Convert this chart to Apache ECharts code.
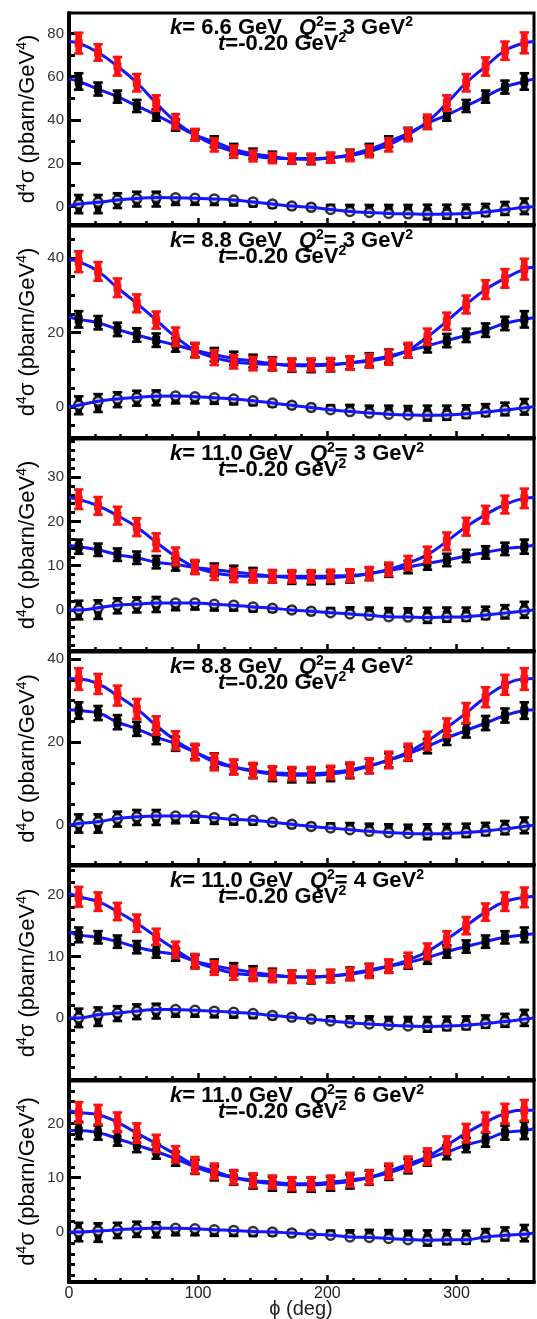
<!DOCTYPE html>
<html><head><meta charset="utf-8">
<script src="https://cdn.jsdelivr.net/npm/echarts@6/dist/echarts.min.js"></script>
<style>html,body{margin:0;padding:0;background:#fff}#c{width:537px;height:1319px}</style>
</head><body><div id="c"></div><script>
// ---- data ----
const phi = [7.5,22.5,37.5,52.5,67.5,82.5,97.5,112.5,127.5,142.5,157.5,172.5,187.5,202.5,217.5,232.5,247.5,262.5,277.5,292.5,307.5,322.5,337.5,352.5];
const xMajor = [0,100,200,300];
const kVals = ['6.6','8.8','11.0','8.8','11.0','11.0'];
const q2Vals = ['3','3','3','4','4','6'];
const tVal = '-0.20';

const p1YTicks = [0,20,40,60,80];
const p1Tot = [75.5,71.2,64.8,57.2,47.8,39.3,33.2,28.5,25.4,23.4,22.4,22.2,22.2,22.6,23.5,25.5,28.5,33.2,39.2,47.8,57.2,64.7,72.0,75.6];
const p1TotErr = [4.8,3.8,4.3,4.0,3.6,3.4,2.7,3.0,2.8,2.5,2.3,2.3,2.3,2.3,2.5,2.7,3.0,3.0,3.3,3.6,4.0,4.2,4.2,4.8];
const p1Bh = [57.8,54.3,50.8,46.5,42.3,37.7,33.1,30.0,26.5,24.5,23.2,22.0,21.8,22.6,24.0,26.5,30.0,33.9,38.5,42.3,46.5,50.8,55.2,57.8];
const p1BhErr = [3.8,3.0,2.8,2.8,2.6,2.6,2.5,2.5,2.5,2.3,2.2,2.2,2.2,2.2,2.3,2.5,2.5,2.5,2.6,2.6,2.8,2.8,3.0,3.8];
const p1Int = [1.2,2.0,3.1,3.8,4.2,4.1,3.9,3.6,3.1,2.2,1.2,0.3,-0.3,-1.3,-2.2,-2.7,-3.1,-3.3,-3.5,-3.4,-3.1,-2.4,-1.4,-0.3];
const p1SqMid = [1.2,1.2,2.8,3.5,3.5,2.6,2.5,2.2,1.9,1.3,0.8,0.2,-0.2,-0.4,-0.7,-1.0,-1.2,-1.3,-2.5,-2.3,-2.0,-1.5,-0.8,0.2];
const p1SqErr = [4.2,4.2,3.4,3.4,3.4,1.8,1.6,1.4,1.2,0.9,0.6,0.5,0.5,1.1,1.5,1.8,2.0,2.1,3.4,3.2,3.0,2.8,3.0,3.6];
const p1Ends = [[76.3,76.3],[59.0,59.0],[0.3,0.0]];

const p2YTicks = [0,20,40];
const p2Tot = [39.0,36.4,32.0,27.8,23.3,18.8,15.2,13.2,12.1,11.6,11.4,11.3,11.3,11.4,11.8,12.3,13.3,15.2,18.8,23.0,27.5,31.5,34.5,37.0];
const p2TotErr = [2.8,2.5,2.5,2.4,2.3,2.5,2.0,2.0,1.8,1.8,1.7,1.7,1.7,1.7,1.8,1.8,2.0,2.0,2.2,2.3,2.4,2.5,2.5,2.8];
const p2Bh = [23.5,22.6,20.8,19.3,17.9,16.6,15.2,14.0,13.0,12.3,11.6,11.1,11.0,11.2,11.8,12.6,13.6,15.0,16.4,17.8,19.2,20.6,22.4,23.5];
const p2BhErr = [2.2,1.8,1.8,1.8,1.8,1.8,1.8,1.8,1.8,1.7,1.7,1.7,1.7,1.7,1.7,1.8,1.8,1.8,1.8,1.8,1.8,1.8,1.8,2.2];
const p2Int = [0.4,1.5,2.1,2.5,2.8,2.9,2.7,2.4,2.1,1.6,1.0,0.4,-0.2,-0.8,-1.3,-1.7,-2.0,-2.2,-2.3,-2.2,-1.9,-1.4,-0.9,-0.3];
const p2SqMid = [0.4,1.0,1.9,2.3,2.4,2.0,1.9,1.6,1.4,1.1,0.8,0.4,-0.2,-0.3,-0.4,-0.7,-0.9,-1.0,-1.7,-1.6,-1.3,-0.9,-0.6,0.0];
const p2SqErr = [2.4,2.4,2.0,2.0,2.0,1.1,1.0,0.8,0.7,0.5,0.4,0.3,0.3,0.6,0.9,1.0,1.2,1.2,2.0,1.9,1.7,1.6,1.7,2.1];
const p2Ends = [[39.6,37.6],[24.2,24.0],[0.0,0.0]];

const p3YTicks = [0,10,20,30];
const p3Tot = [25.0,23.5,21.3,18.7,15.3,12.1,9.7,8.4,7.8,7.6,7.6,7.6,7.6,7.7,7.8,8.2,9.2,10.6,12.5,15.5,18.8,21.5,23.8,25.2];
const p3TotErr = [2.2,2.0,2.0,2.0,2.0,2.0,1.6,1.6,1.5,1.4,1.4,1.4,1.4,1.4,1.4,1.5,1.5,1.6,1.8,2.0,2.0,2.0,2.0,2.2];
const p3Bh = [14.3,13.6,12.5,11.8,10.8,10.3,9.6,9.1,8.6,8.1,7.6,7.3,7.2,7.3,7.6,8.2,8.9,9.7,10.5,11.3,12.2,13.0,13.8,14.3];
const p3BhErr = [1.6,1.4,1.4,1.4,1.4,1.4,1.4,1.4,1.4,1.4,1.4,1.4,1.4,1.4,1.4,1.4,1.4,1.4,1.4,1.4,1.4,1.4,1.4,1.6];
const p3Int = [0.0,0.5,1.1,1.3,1.6,1.6,1.6,1.3,1.1,0.7,0.4,0.0,-0.3,-0.6,-0.9,-1.2,-1.5,-1.6,-1.7,-1.6,-1.5,-1.1,-0.7,-0.2];
const p3SqMid = [0.0,0.1,0.95,1.15,1.25,0.85,0.9,0.6,0.5,0.25,0.2,0.0,-0.3,-0.15,-0.15,-0.35,-0.55,-0.6,-1.2,-1.05,-0.95,-0.65,-0.4,0.05];
const p3SqErr = [2.1,2.1,1.7,1.7,1.7,0.9,0.8,0.7,0.6,0.45,0.3,0.25,0.25,0.55,0.75,0.9,1.0,1.0,1.7,1.6,1.5,1.4,1.5,1.8];
const p3Ends = [[25.4,25.4],[14.6,14.6],[0.0,0.0]];

const p4YTicks = [0,20,40];
const p4Tot = [35.2,34.0,31.2,28.0,24.0,20.4,17.6,15.2,14.0,13.2,12.6,12.4,12.4,12.7,13.3,14.3,15.7,17.6,20.3,23.5,27.0,30.8,33.8,35.2];
const p4TotErr = [2.6,2.4,2.4,2.4,2.2,2.2,2.0,2.0,1.8,1.8,1.6,1.6,1.6,1.6,1.8,1.8,2.0,2.0,2.2,2.2,2.4,2.4,2.4,2.6];
const p4Bh = [27.6,27.0,24.8,23.2,21.2,19.6,17.6,15.6,14.0,13.0,12.3,12.0,12.0,12.3,13.0,14.2,15.6,17.2,19.0,21.0,22.8,24.6,26.4,27.6];
const p4BhErr = [2.0,1.7,1.7,1.7,1.7,1.7,1.7,1.7,1.7,1.7,1.7,1.7,1.7,1.7,1.7,1.7,1.7,1.7,1.7,1.7,1.7,1.7,1.7,2.0];
const p4Int = [0.4,0.8,1.6,2.0,2.2,2.2,2.2,1.8,1.4,1.2,0.7,0.2,-0.3,-0.7,-1.1,-1.5,-1.8,-2.0,-2.1,-2.0,-1.8,-1.4,-0.9,-0.3];
const p4SqMid = [0.4,0.4,1.45,1.85,1.85,1.4,1.45,1.05,0.8,0.75,0.5,0.15,-0.25,-0.25,-0.3,-0.6,-0.8,-1.0,-1.6,-1.45,-1.25,-0.95,-0.6,-0.05];
const p4SqErr = [2.2,2.2,1.8,1.8,1.8,0.95,0.85,0.75,0.6,0.5,0.3,0.25,0.25,0.6,0.8,0.95,1.0,1.1,1.8,1.7,1.6,1.5,1.6,1.9];
const p4Ends = [[35.3,35.3],[27.8,27.8],[0.0,0.0]];

const p5YTicks = [0,10,20];
const p5Tot = [19.7,18.9,17.3,15.4,13.2,11.1,9.2,8.1,7.3,7.0,6.8,6.7,6.7,6.8,7.1,7.6,8.4,9.4,10.8,12.8,15.0,17.2,18.9,19.6];
const p5TotErr = [1.6,1.5,1.4,1.4,1.3,1.3,1.2,1.1,1.1,1.0,1.0,1.0,1.0,1.0,1.0,1.1,1.1,1.2,1.3,1.3,1.4,1.4,1.5,1.6];
const p5Bh = [13.5,13.1,12.4,11.5,10.8,10.3,9.2,8.5,7.9,7.4,7.0,6.7,6.6,6.8,7.2,7.8,8.4,9.0,9.8,10.8,11.6,12.4,13.1,13.5];
const p5BhErr = [1.2,1.0,1.0,1.0,1.0,1.0,1.0,1.0,1.0,1.0,1.0,1.0,1.0,1.0,1.0,1.0,1.0,1.0,1.0,1.0,1.0,1.0,1.0,1.2];
const p5Int = [0.0,0.5,0.8,1.1,1.35,1.35,1.25,1.1,0.9,0.7,0.4,0.1,-0.2,-0.5,-0.8,-1.0,-1.2,-1.3,-1.4,-1.3,-1.2,-0.9,-0.6,-0.2];
const p5SqMid = [0.0,0.2,0.7,1.0,1.1,0.85,0.75,0.6,0.5,0.4,0.25,0.1,-0.2,-0.2,-0.3,-0.4,-0.55,-0.6,-1.05,-0.9,-0.8,-0.6,-0.4,0.0];
const p5SqErr = [1.5,1.5,1.2,1.2,1.2,0.65,0.55,0.5,0.4,0.3,0.2,0.2,0.2,0.4,0.55,0.65,0.7,0.75,1.2,1.1,1.05,1.0,1.05,1.3];
const p5Ends = [[20.3,19.8],[14.0,13.7],[0.0,0.0]];

const p6YTicks = [0,10,20];
const p6Tot = [22.0,21.6,20.2,18.2,16.3,14.3,12.3,11.2,10.1,9.5,9.2,8.9,8.9,9.2,9.6,10.1,11.2,12.5,13.9,16.0,18.2,20.2,21.8,22.4];
const p6TotErr = [1.9,1.8,1.8,1.8,1.6,1.5,1.5,1.4,1.3,1.3,1.2,1.2,1.2,1.2,1.3,1.3,1.4,1.4,1.5,1.6,1.7,1.8,1.8,1.9];
const p6Bh = [18.7,18.3,17.2,16.0,14.8,13.5,12.0,10.8,10.0,9.3,8.9,8.7,8.7,8.9,9.3,10.0,10.9,12.1,13.5,14.7,16.0,17.0,18.3,18.7];
const p6BhErr = [1.6,1.3,1.3,1.3,1.3,1.3,1.3,1.3,1.3,1.3,1.3,1.3,1.3,1.3,1.3,1.3,1.3,1.3,1.3,1.3,1.3,1.3,1.3,1.6];
const p6Int = [0.0,0.2,0.4,0.6,0.7,0.7,0.6,0.4,0.3,0.1,0.0,-0.2,-0.4,-0.6,-0.9,-1.0,-1.2,-1.4,-1.5,-1.4,-1.4,-0.9,-0.6,-0.4];
const p6SqMid = [0.0,-0.1,0.3,0.5,0.4,0.1,0.05,-0.15,-0.2,-0.25,-0.15,-0.2,-0.4,-0.25,-0.3,-0.3,-0.45,-0.6,-1.1,-0.95,-0.95,-0.55,-0.35,-0.2];
const p6SqErr = [1.7,1.7,1.4,1.4,1.4,0.7,0.65,0.55,0.5,0.35,0.25,0.2,0.2,0.45,0.6,0.7,0.8,0.85,1.4,1.3,1.2,1.1,1.2,1.5];
const p6Ends = [[22.4,22.4],[18.7,19.0],[0.0,-0.2]];

// ---- layout ----
const panels = [
  {tot:p1Tot,totErr:p1TotErr,bh:p1Bh,bhErr:p1BhErr,int:p1Int,sqMid:p1SqMid,sqErr:p1SqErr,ends:p1Ends,yTicks:p1YTicks,minorStep:10,top:13,bottom:225,min:-8.45,max:89.4},
  {tot:p2Tot,totErr:p2TotErr,bh:p2Bh,bhErr:p2BhErr,int:p2Int,sqMid:p2SqMid,sqErr:p2SqErr,ends:p2Ends,yTicks:p2YTicks,minorStep:5,top:226,bottom:438,min:-8.4,max:48.6},
  {tot:p3Tot,totErr:p3TotErr,bh:p3Bh,bhErr:p3BhErr,int:p3Int,sqMid:p3SqMid,sqErr:p3SqErr,ends:p3Ends,yTicks:p3YTicks,minorStep:2,top:439,bottom:651,min:-9.25,max:38.6},
  {tot:p4Tot,totErr:p4TotErr,bh:p4Bh,bhErr:p4BhErr,int:p4Int,sqMid:p4SqMid,sqErr:p4SqErr,ends:p4Ends,yTicks:p4YTicks,minorStep:5,top:652,bottom:865,min:-9.6,max:41.7},
  {tot:p5Tot,totErr:p5TotErr,bh:p5Bh,bhErr:p5BhErr,int:p5Int,sqMid:p5SqMid,sqErr:p5SqErr,ends:p5Ends,yTicks:p5YTicks,minorStep:2,top:866,bottom:1080,min:-10.1,max:24.7},
  {tot:p6Tot,totErr:p6TotErr,bh:p6Bh,bhErr:p6BhErr,int:p6Int,sqMid:p6SqMid,sqErr:p6SqErr,ends:p6Ends,yTicks:p6YTicks,minorStep:2,top:1081,bottom:1282,min:-9.2,max:27.8}
];

const FONT = '"Liberation Sans", Arial, Helvetica, sans-serif';
const BLUE = '#1414ff';
const RED = '#ff1010';
const xMinor = [];
for (let v = 20; v < 360; v += 20) if (v % 100 !== 0) xMinor.push(v);

function curveData(vals, ends) {
  return [[0, ends[0]]].concat(phi.map((x, k) => [x, vals[k]]), [[360, ends[1]]]);
}
function errSeries(i, vals, errs, color, z) {
  return {
    type: 'custom', xAxisIndex: 2 * i, yAxisIndex: 2 * i, z: z, silent: true, clip: false,
    data: phi.map((x, k) => [x, vals[k], errs[k]]),
    encode: {x: 0, y: 1},
    renderItem: function (params, api) {
      const x = api.value(0), v = api.value(1), e = api.value(2);
      const c = api.coord([x, v]), t = api.coord([x, v + e]), b = api.coord([x, v - e]);
      return {type: 'group', children: [
        {type: 'rect', shape: {x: c[0] - 3.25, y: t[1], width: 6.5, height: b[1] - t[1]}, style: {fill: color}},
        {type: 'rect', shape: {x: c[0] - 4.75, y: t[1] - 1.3, width: 9.5, height: 2.6}, style: {fill: color}},
        {type: 'rect', shape: {x: c[0] - 4.75, y: b[1] - 1.3, width: 9.5, height: 2.6}, style: {fill: color}},
        {type: 'rect', shape: {x: c[0] - 4, y: c[1] - 4, width: 8, height: 8}, style: {fill: color}}
      ]};
    }
  };
}

const RICH_T = {
  n: {fontSize: 22, fontFamily: FONT, fontWeight: 'bold', color: '#111', lineHeight: 25},
  i: {fontSize: 22, fontFamily: FONT, fontWeight: 'bold', fontStyle: 'italic', color: '#111', lineHeight: 25},
  s: {fontSize: 14, fontFamily: FONT, fontWeight: 'bold', color: '#111', verticalAlign: 'top', lineHeight: 14},
  g: {fontSize: 22, fontFamily: FONT, width: 17, lineHeight: 25}
};
const RICH_Y = {
  n: {fontSize: 22, fontFamily: FONT, color: '#222', lineHeight: 25},
  s: {fontSize: 14, fontFamily: FONT, color: '#222', verticalAlign: 'top', lineHeight: 14}
};

const grids = [], xAxes = [], yAxes = [], series = [], graphics = [];
panels.forEach((p, i) => {
  const h = p.bottom - p.top;
  const last = i === panels.length - 1;
  grids.push({left: 69, width: 465, top: p.top, height: h, show: true, borderColor: '#000', borderWidth: 3, backgroundColor: 'transparent'});
  xAxes.push({gridIndex: i, type: 'value', min: 0, max: 360, position: 'bottom',
    axisLine: {show: true, onZero: false, lineStyle: {color: '#000', width: 4}},
    axisTick: {show: true, inside: true, length: 7, lineStyle: {color: '#000', width: 2.5}, customValues: xMajor},
    axisLabel: {show: last, customValues: xMajor, fontSize: 16, color: '#222', margin: 4, fontFamily: FONT},
    splitLine: {show: false}});
  xAxes.push({gridIndex: i, type: 'value', min: 0, max: 360, position: 'bottom',
    axisLine: {show: false, onZero: false},
    axisTick: {show: true, inside: true, length: 4, lineStyle: {color: '#000', width: 2.5}, customValues: xMinor},
    axisLabel: {show: false}, splitLine: {show: false}});
  const minor = [];
  for (let v = Math.ceil(p.min / p.minorStep) * p.minorStep; v <= p.max; v += p.minorStep) {
    if (p.yTicks.indexOf(v) < 0) minor.push(v);
  }
  yAxes.push({gridIndex: i, type: 'value', min: p.min, max: p.max, position: 'left',
    axisLine: {show: true, onZero: false, lineStyle: {color: '#000', width: 4}},
    axisTick: {show: true, inside: true, length: 12, lineStyle: {color: '#000', width: 3}, customValues: p.yTicks},
    axisLabel: {show: true, customValues: p.yTicks, fontSize: 15, color: '#333', margin: 5, fontFamily: FONT},
    splitLine: {show: false}});
  yAxes.push({gridIndex: i, type: 'value', min: p.min, max: p.max, position: 'left',
    axisLine: {show: false, onZero: false},
    axisTick: {show: true, inside: true, length: 6, lineStyle: {color: '#000', width: 3}, customValues: minor},
    axisLabel: {show: false}, splitLine: {show: false}});

  const lineBase = {type: 'line', xAxisIndex: 2 * i, yAxisIndex: 2 * i, smooth: 0.5, symbol: 'none', silent: true,
    lineStyle: {color: BLUE, width: 3}};
  series.push(Object.assign({}, lineBase, {data: curveData(p.bh, p.ends[1]), z: 2}));
  series.push(Object.assign({}, lineBase, {data: curveData(p.tot, p.ends[0]), z: 2}));
  series.push(errSeries(i, p.bh, p.bhErr, '#000', 3));
  series.push(errSeries(i, p.tot, p.totErr, RED, 4));
  series.push(errSeries(i, p.sqMid, p.sqErr, '#000', 5));
  series.push({type: 'scatter', xAxisIndex: 2 * i, yAxisIndex: 2 * i, z: 6, silent: true,
    data: phi.map((x, k) => [x, p.int[k]]), symbol: 'circle', symbolSize: 9,
    itemStyle: {color: '#fff', borderColor: '#000', borderWidth: 2.5}});
  series.push(Object.assign({}, lineBase, {data: curveData(p.int, p.ends[2]), z: 7}));

  graphics.push({type: 'text', x: 170, y: p.top + 14.5, z: 100,
    style: {text: '{i|k}{n|= ' + kVals[i] + ' GeV}{g| }{i|Q}{s|2}{n|= ' + q2Vals[i] + ' GeV}{s|2}', rich: RICH_T, align: 'left', verticalAlign: 'middle'}});
  graphics.push({type: 'text', x: 218, y: p.top + 31, z: 100,
    style: {text: '{i|t}{n|=' + tVal + ' GeV}{s|2}', rich: RICH_T, align: 'left', verticalAlign: 'middle'}});
  graphics.push({type: 'text', x: 28, y: (p.top + p.bottom) / 2, rotation: Math.PI / 2, z: 100,
    style: {text: '{n|d}{s|4}{n|σ (pbarn/GeV}{s|4}{n|)}', rich: RICH_Y, align: 'center', verticalAlign: 'middle'}});
});
graphics.push({type: 'text', x: 301, y: 1309, z: 100,
  style: {text: 'ϕ (deg)', fontSize: 20, fontFamily: FONT, fill: '#222', align: 'center', verticalAlign: 'middle'}});

const chart = echarts.init(document.getElementById('c'), null, {renderer: 'canvas'});
chart.setOption({
  animation: false,
  backgroundColor: '#fff',
  grid: grids, xAxis: xAxes, yAxis: yAxes, series: series, graphic: graphics
});
</script></body></html>
